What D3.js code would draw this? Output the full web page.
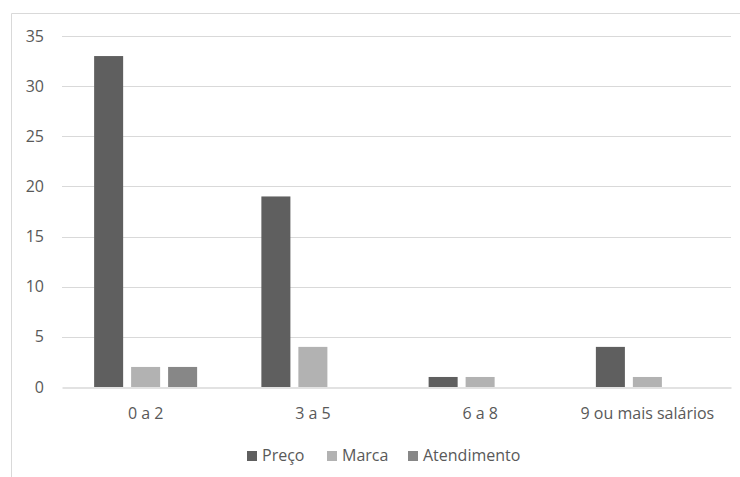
<!DOCTYPE html>
<html>
<head>
<meta charset="utf-8">
<script src="https://cdn.jsdelivr.net/npm/d3@7"></script>
<style>
  body { margin: 0; background: #ffffff; }
  svg { display: block; font-family: "Open Sans", Lato, sans-serif; }
</style>
</head>
<body>
<svg id="chart" width="740" height="477"></svg>
<script>
// Faixas de renda e motivos de escolha
const categories = ["0 a 2", "3 a 5", "6 a 8", "9 ou mais salários"];
const seriesNames = ["Preço", "Marca", "Atendimento"];
const preco = [33, 19, 1, 4];
const marca = [2, 4, 1, 1];
const atendimento = [2, 0, 0, 0];
const yTicks = [0, 5, 10, 15, 20, 25, 30, 35];
const colors = ["#5f5f5f", "#b2b2b2", "#878787"];

(function () {
  const values = [preco, marca, atendimento];
  const svg = d3.select("#chart");
  const font = "'Open Sans', Lato, sans-serif";
  const textColor = "#595959";

  // chart frame
  svg.append("path")
    .attr("d", "M11.5,477 V13.5 H740")
    .attr("fill", "none")
    .attr("stroke", "#d9d9d9")
    .attr("stroke-width", 1);

  const plotL = 62, plotR = 731, plotT = 36, plotB = 387;

  const x = d3.scaleBand().domain(categories).range([plotL, plotR]);
  const xs = d3.scaleBand().domain(seriesNames).range([0, 103]).paddingInner(0.2155);
  const y = d3.scaleLinear().domain([0, 35]).range([plotB, plotT]);

  // gridlines
  svg.append("g").selectAll("line").data(yTicks.filter(d => d > 0)).join("line")
    .attr("x1", plotL).attr("x2", plotR)
    .attr("y1", d => Math.round(y(d)) + 0.5).attr("y2", d => Math.round(y(d)) + 0.5)
    .attr("stroke", "#d9d9d9").attr("stroke-width", 1);

  // y labels
  const yAxis = d3.axisLeft(y).tickValues(yTicks).tickSize(0).tickPadding(0);
  const gy = svg.append("g").attr("transform", "translate(44,0)").call(yAxis);
  gy.select(".domain").remove();
  gy.selectAll("text").attr("fill", textColor).attr("font-size", 16)
    .attr("font-family", font);

  // bars
  const groups = svg.append("g").selectAll("g").data(categories).join("g")
    .attr("transform", d => `translate(${x(d) + x.bandwidth() / 2 - 51.5},0)`);
  groups.selectAll("rect")
    .data((c, i) => seriesNames.map((s, j) => ({ s, v: values[j][i], j })))
    .join("rect")
    .attr("x", d => xs(d.s))
    .attr("width", xs.bandwidth())
    .attr("y", d => y(d.v))
    .attr("height", d => y(0) - y(d.v))
    .attr("fill", d => colors[d.j]);

  // baseline / x axis
  const xAxis = d3.axisBottom(x).tickSize(0).tickPadding(20);
  const gx = svg.append("g").attr("transform", `translate(0,${plotB + 0.5})`).call(xAxis);
  gx.select(".domain").attr("stroke", "#d9d9d9").attr("stroke-width", 1.5);
  gx.selectAll("text").attr("fill", textColor).attr("font-size", 16)
    .attr("font-family", font);

  // legend
  const legendX = [247, 327, 408];
  const legend = svg.append("g").selectAll("g").data(seriesNames).join("g")
    .attr("transform", (d, i) => `translate(${legendX[i]},0)`);
  legend.append("rect").attr("x", 0).attr("y", 451).attr("width", 10).attr("height", 10)
    .attr("fill", (d, i) => colors[i]);
  legend.append("text").attr("x", 15).attr("y", 461)
    .attr("fill", textColor).attr("font-size", 16).attr("font-family", font).text(d => d);
})();
</script>
</body>
</html>
